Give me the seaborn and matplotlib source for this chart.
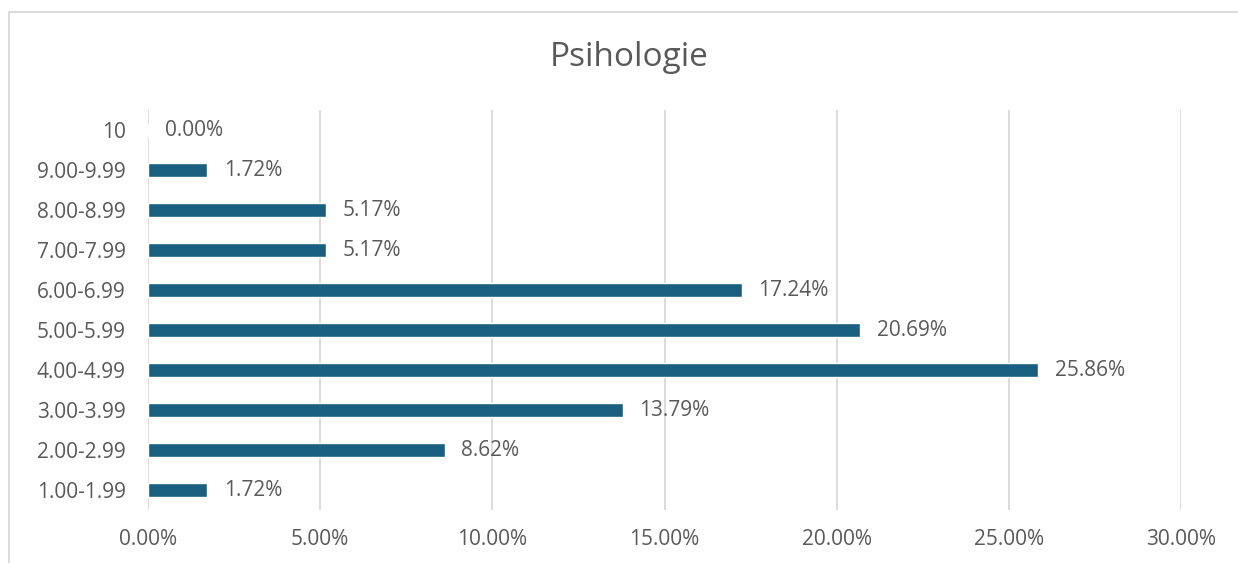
import matplotlib
matplotlib.use("Agg")
import matplotlib.pyplot as plt
import seaborn as sns
import pandas as pd
from matplotlib.patches import Rectangle

categories = ["10", "9.00-9.99", "8.00-8.99", "7.00-7.99", "6.00-6.99",
              "5.00-5.99", "4.00-4.99", "3.00-3.99", "2.00-2.99", "1.00-1.99"]
percentages = [0.00, 1.72, 5.17, 5.17, 17.24, 20.69, 25.86, 13.79, 8.62, 1.72]
x_ticks = [0, 5, 10, 15, 20, 25, 30]

df = pd.DataFrame({"interval": categories, "pct": percentages})

sns.set_style("white")
plt.rcParams["font.family"] = ["Open Sans", "DejaVu Sans"]
text_col = "#595959"

fig = plt.figure(figsize=(12.38, 5.63), dpi=100)
ax = fig.add_axes([148 / 1238, 1 - 510 / 563, (1181 - 148) / 1238, 400 / 563])

sns.barplot(data=df, x="pct", y="interval", orient="h", color="#1a5e80",
            width=0.35, saturation=1, ax=ax, zorder=3)

ax.set_xlim(0, 30)
ax.set_xticks(x_ticks)
ax.set_xticklabels([f"{t:.2f}%" for t in x_ticks])
ax.grid(axis="x", color="#d9d9d9", linewidth=1.3, zorder=0)
ax.set_xlabel("")
ax.set_ylabel("")
for s in ax.spines.values():
    s.set_visible(False)
ax.tick_params(axis="both", length=0, labelsize=15, colors=text_col)
ax.tick_params(axis="x", pad=14)
ax.tick_params(axis="y", pad=16)

ax.bar_label(ax.containers[0], labels=[f"{v:.2f}%" for v in percentages],
             padding=12, fontsize=15, color=text_col)

fig.text(629 / 1238, 1 - 57 / 563, "Psihologie", ha="center", va="center",
         fontsize=24, color=text_col)

# outer chart-area border (only top and left edges visible in the crop)
fig.patches.append(Rectangle((9 / 1238, -0.1), 1.2, 1 - 12 / 563 + 0.1,
                             transform=fig.transFigure, fill=False,
                             edgecolor="#d9d9d9", linewidth=1.3))

fig.savefig("out.png", dpi=100, facecolor="white")
